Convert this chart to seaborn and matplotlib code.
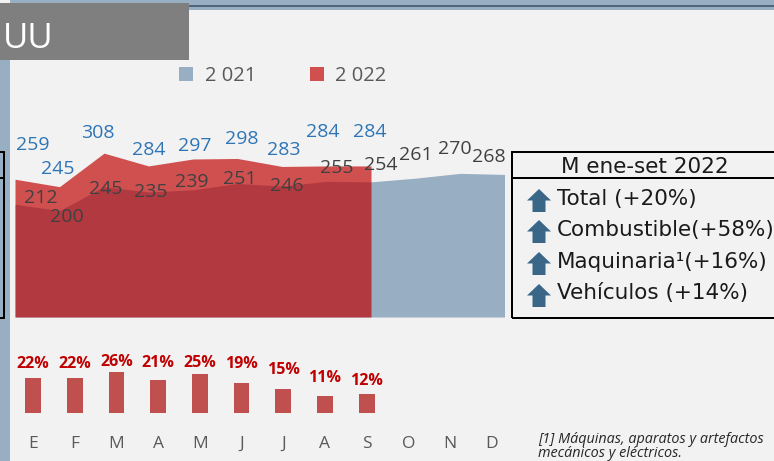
import numpy as np
import pandas as pd
import matplotlib
matplotlib.use("Agg")
import matplotlib.pyplot as plt
import matplotlib.transforms as mtransforms
from matplotlib.patches import Rectangle, Polygon
from matplotlib.lines import Line2D
import seaborn as sns

# ---------------- data ----------------
months = ["E", "F", "M", "A", "M", "J", "J", "A", "S", "O", "N", "D"]
v2021 = [212, 200, 245, 235, 239, 251, 246, 255, 254, 261, 270, 268]
v2022 = [259, 245, 308, 284, 297, 298, 283, 284, 284]
growth = [22, 22, 26, 21, 25, 19, 15, 11, 12]
series_labels = ["2 021", "2 022"]
title_text = "UU"
box_title = "M ene-set 2022"
box_items = ["Total (+20%)", "Combustible(+58%)", "Maquinaria\u00b9(+16%)", "Vehículos (+14%)"]
footnote_lines = ["[1] Máquinas, aparatos y artefactos", "mecánicos y eléctricos."]

# ---------------- style ----------------
W, H, DPI = 774, 461, 100
BG = "#F2F2F2"
C21 = "#97AEC3"
C22 = "#C00000"
A22 = 0.67
BAR = "#C0504D"
LBL22 = "#2E75B6"
LBL21 = "#404040"
PCT = "#C00000"
MONTHC = "#595959"
ARROW = "#3A6788"

sns.set_theme(style="white")
plt.rcParams["font.family"] = ["Open Sans", "DejaVu Sans"]

fig = plt.figure(figsize=(W / DPI, H / DPI), dpi=DPI)
fig.patch.set_facecolor(BG)

def fx(px):
    return px / W

def fy(py):
    return 1 - py / H

def rect(x0, y0, x1, y1):
    return [fx(x0), fy(y1), fx(x1) - fx(x0), fy(y0) - fy(y1)]

def px2pt(p):
    return p * 72.0 / DPI

# ---------------- decorations ----------------
fig.add_artist(Rectangle((fx(10), fy(10.5)), fx(774) - fx(10), fy(0) - fy(10.5),
                         transform=fig.transFigure, color=C21, lw=0, zorder=1))
fig.add_artist(Line2D([fx(189), fx(774)], [fy(6.5), fy(6.5)], transform=fig.transFigure,
                      color="#3F5468", lw=px2pt(1.6), zorder=2))
fig.add_artist(Rectangle((fx(0), fy(461)), fx(10), fy(60) - fy(461),
                         transform=fig.transFigure, color=C21, lw=0, zorder=1))
fig.add_artist(Rectangle((fx(0), fy(60)), fx(189), fy(3) - fy(60),
                         transform=fig.transFigure, color="#7F7F7F", lw=0, zorder=3))
fig.text(fx(3), fy(48), title_text, color="white", fontsize=25, family="Open Sans",
         ha="left", va="baseline", zorder=4)

# left partial box
for (xa, ya, xb, yb) in [(4, 152, 4, 318), (0, 152, 4, 152), (0, 178, 4, 178), (0, 318, 4, 318)]:
    fig.add_artist(Line2D([fx(xa), fx(xb)], [fy(ya), fy(yb)], transform=fig.transFigure,
                          color="black", lw=px2pt(2), zorder=5))

# ---------------- area chart ----------------
Y_PX = 0.532  # pixels per unit
ax = fig.add_axes(rect(15, 317 - 400 * Y_PX, 504.5, 317))
ax.patch.set_alpha(0)
idx21 = np.arange(len(v2021))
idx22 = np.arange(len(v2022))
df21 = pd.DataFrame({"pos": idx21, "val": v2021})
df22 = pd.DataFrame({"pos": idx22, "val": v2022})
sns.lineplot(data=df21, x="pos", y="val", ax=ax, color=C21, linewidth=0)
sns.lineplot(data=df22, x="pos", y="val", ax=ax, color=C22, linewidth=0)
ax.fill_between(df21["pos"], 0, df21["val"], color=C21, lw=0, zorder=2)
ax.fill_between(df22["pos"], 0, df22["val"], color=C22, alpha=A22, lw=0, zorder=3)
ax.set_xlim(0, 11)
ax.set_ylim(0, 400)
ax.axis("off")

off22 = [(18, -36), (-1.5, -20), (-6, -22), (0, -18), (2, -15), (4.5, -21.5), (2, -18), (-3.5, -36), (-1, -36)]
off21 = [(26, -8), (7.5, 4.5), (2, 0), (2.5, -2), (-1, -10), (2.5, -6), (5, -2), (10.5, -15),
         (10, -19), (0.5, -25), (-5.5, -26), (-15.5, -19)]
for i, v in enumerate(v2022):
    dx, dy = off22[i]
    ax.annotate(str(v), (i, v), xytext=(px2pt(dx), px2pt(-dy)), textcoords="offset points",
                ha="center", va="center_baseline", color=LBL22, fontsize=14, zorder=6,
                annotation_clip=False)
for i, v in enumerate(v2021):
    dx, dy = off21[i]
    ax.annotate(str(v), (i, v), xytext=(px2pt(dx), px2pt(-dy)), textcoords="offset points",
                ha="center", va="center_baseline", color=LBL21, fontsize=14, zorder=6,
                annotation_clip=False)

# ---------------- legend ----------------
leg = [(179, C21, 1.0, series_labels[0], 205), (310, C22, A22, series_labels[1], 335)]
for x0, col, al, lab, tx in leg:
    fig.add_artist(Rectangle((fx(x0), fy(81)), fx(14), fy(67) - fy(81), transform=fig.transFigure,
                             facecolor=col, alpha=al, lw=0, zorder=3))
    fig.text(fx(tx), fy(81), lab, color="#595959", fontsize=14.5, ha="left", va="baseline")

# ---------------- growth bars ----------------
B_PX = 1.56
ax2 = fig.add_axes(rect(12.2, 412.7 - 30 * B_PX, 512.6, 412.7))
ax2.patch.set_alpha(0)
dfg = pd.DataFrame({"pos": np.arange(len(growth)), "g": growth})
sns.barplot(data=dfg, x="pos", y="g", order=list(range(len(months))), ax=ax2, color=BAR,
            saturation=1, width=0.38, linewidth=0, errorbar=None)
ax2.set_ylim(0, 30)
ax2.set_xlim(-0.5, len(months) - 0.5)
ax2.axis("off")
pct_dy = [16, 16, 12, 19, 13, 21, 21.5, 20, 15]
for i, g in enumerate(growth):
    ax2.annotate(f"{g}%", (i, g), xytext=(0, px2pt(pct_dy[i])), textcoords="offset points",
                 ha="center", va="center_baseline", color=PCT, fontsize=11.5, fontweight="bold",
                 annotation_clip=False)
trans = mtransforms.blended_transform_factory(ax2.transData, fig.transFigure)
for i, m in enumerate(months):
    ax2.text(i, fy(448), m, transform=trans, ha="center", va="baseline", color=MONTHC,
             fontsize=12.5, clip_on=False)

# ---------------- summary box ----------------
fig.add_artist(Rectangle((fx(512), fy(318)), fx(790) - fx(512), fy(152) - fy(318),
                         transform=fig.transFigure, facecolor="none", edgecolor="black",
                         lw=px2pt(2), zorder=5))
fig.add_artist(Line2D([fx(512), fx(790)], [fy(178), fy(178)], transform=fig.transFigure,
                      color="black", lw=px2pt(2), zorder=5))
fig.text(fx(645), fy(173), box_title, family="DejaVu Sans", fontsize=15.5, color="#1A1A1A",
         ha="center", va="baseline")
row_c = [197, 228, 260, 292]
for yc, item in zip(row_c, box_items):
    fig.text(fx(557), fy(yc + 7.5), item, family="DejaVu Sans", fontsize=15.5, color="#1A1A1A",
             ha="left", va="baseline")
    pts = [(539, yc - 8), (551, yc + 3.5), (545.5, yc + 3.5), (545.5, yc + 15),
           (532.5, yc + 15), (532.5, yc + 3.5), (527, yc + 3.5)]
    fig.add_artist(Polygon([(fx(a), fy(b)) for a, b in pts], closed=True,
                           transform=fig.transFigure, facecolor=ARROW, lw=0, zorder=5))

# ---------------- footnote ----------------
for yb, line in zip([443, 456.5], footnote_lines):
    fig.text(fx(538), fy(yb), line, fontsize=10.4, style="italic", color="#262626",
             ha="left", va="baseline")

fig.savefig("out.png", dpi=DPI, facecolor=BG)
